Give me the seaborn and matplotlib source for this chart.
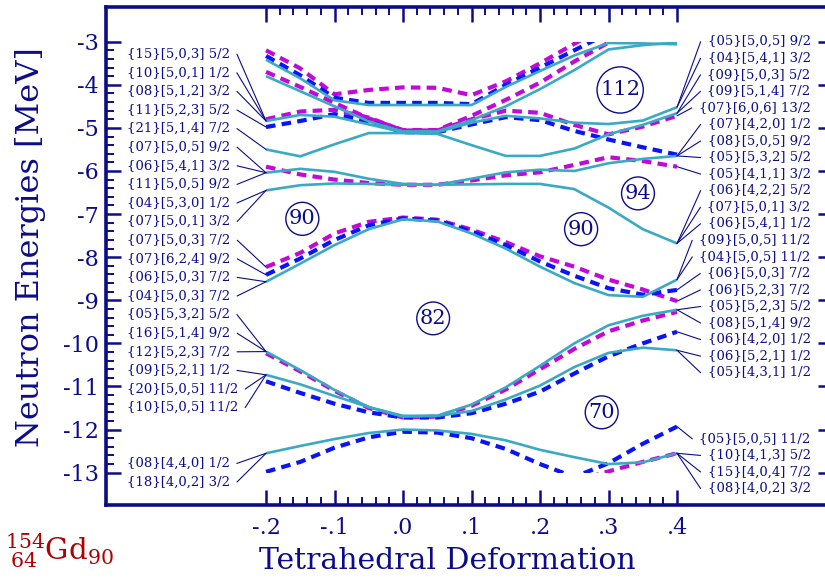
import numpy as np
import pandas as pd
import matplotlib
matplotlib.use("Agg")
import matplotlib.pyplot as plt
from matplotlib.transforms import Bbox, TransformedBbox
from matplotlib.ticker import FixedLocator
import seaborn as sns

nan = np.nan

# tetrahedral deformation grid
deformation = [-0.20, -0.15, -0.10, -0.05, 0.00, 0.05, 0.10, 0.15, 0.20, 0.25, 0.30, 0.35, 0.40]

# single-particle neutron levels [MeV], grouped by line family
magenta_levels = {
    "m_a1": [-3.20, -3.62, -4.22, -4.12, -4.06, -4.07, -4.24, -3.92, -3.50, -3.05, -2.60, nan, nan],
    "m_a2": [-3.70, -4.05, -4.42, -4.78, -5.05, -5.05, -4.72, -4.35, -3.95, -3.46, -3.02, -2.60, nan],
    "m_b": [-4.80, -4.62, -4.58, -4.76, -5.06, -5.06, -4.80, -4.60, -4.65, -4.93, -5.15, -4.97, -4.72],
    "m_c": [-5.90, -6.08, -6.20, -6.28, -6.32, -6.32, -6.22, -6.10, -6.03, -5.86, -5.68, -5.77, -5.90],
    "m_d": [-8.23, -7.90, -7.45, -7.18, -7.08, -7.13, -7.36, -7.65, -7.98, -8.22, -8.52, -8.75, -9.02],
    "m_e": [-10.23, -10.65, -11.10, -11.50, -11.72, -11.70, -11.45, -11.07, -10.60, -10.13, -9.72, -9.47, -9.27],
    "m_f": [nan, nan, nan, nan, nan, nan, nan, nan, nan, -13.20, -12.97, -12.75, -12.55],
}
blue_levels = {
    "b_a1": [-3.33, -3.78, -4.30, -4.42, -4.42, -4.42, -4.45, -4.00, -3.60, -3.20, -2.80, nan, nan],
    "b_b": [-4.98, -4.84, -4.68, -4.85, -5.10, -5.10, -4.92, -4.75, -4.82, -5.07, -5.27, -5.45, -5.62],
    "b_d": [-8.41, -8.03, -7.60, -7.26, -7.10, -7.15, -7.40, -7.72, -8.10, -8.43, -8.72, -8.87, -8.76],
    "b_e": [-10.88, -11.15, -11.40, -11.60, -11.72, -11.72, -11.62, -11.40, -11.12, -10.70, -10.30, -10.00, -9.73],
    "b_f": [-12.98, -12.75, -12.42, -12.18, -12.05, -12.07, -12.20, -12.45, -12.80, -13.10, -12.78, -12.33, -11.93],
}
cyan_levels = {
    "c_a": [-3.42, -3.85, -4.36, -4.47, -4.47, -4.47, -4.47, -4.05, -3.68, -3.32, -3.03, -3.04, -3.06],
    "c_b": [-3.80, -4.15, -4.50, -4.85, -5.08, -5.08, -4.82, -4.50, -4.10, -3.66, -3.18, -3.08, -3.02],
    "c_b2": [-4.84, -4.70, -4.74, -4.92, -5.10, -5.10, -4.88, -4.72, -4.78, -4.88, -4.91, -4.83, -4.52],
    "c_dip": [-5.50, -5.66, -5.38, -5.12, -5.12, -5.14, -5.40, -5.65, -5.65, -5.48, -5.15, -4.93, -4.66],
    "c_c1": [-6.04, -5.95, -6.02, -6.18, -6.30, -6.32, -6.18, -6.03, -5.97, -6.00, -5.82, -5.72, -5.65],
    "c_c2": [-6.45, -6.33, -6.29, -6.30, -6.32, -6.32, -6.31, -6.30, -6.30, -6.42, -6.85, -7.35, -7.68],
    "c_d": [-8.57, -8.15, -7.72, -7.35, -7.12, -7.17, -7.45, -7.80, -8.22, -8.60, -8.88, -8.92, -8.52],
    "c_e1": [-10.19, -10.62, -11.08, -11.48, -11.70, -11.68, -11.42, -11.02, -10.52, -10.00, -9.58, -9.36, -9.22],
    "c_e2": [-10.73, -10.95, -11.22, -11.48, -11.68, -11.68, -11.57, -11.30, -10.98, -10.55, -10.22, -10.10, -10.16],
    "c_f": [-12.55, -12.38, -12.22, -12.08, -12.00, -12.02, -12.10, -12.25, -12.47, -12.64, -12.80, -12.76, -12.55],
}

# level labels at the two ends and the level each one points to
left_labels = [
    "{15}[5,0,3] 5/2", "{10}[5,0,1] 1/2", "{08}[5,1,2] 3/2", "{11}[5,2,3] 5/2",
    "{21}[5,1,4] 7/2", "{07}[5,0,5] 9/2", "{06}[5,4,1] 3/2", "{11}[5,0,5] 9/2",
    "{04}[5,3,0] 1/2", "{07}[5,0,1] 3/2", "{07}[5,0,3] 7/2", "{07}[6,2,4] 9/2",
    "{06}[5,0,3] 7/2", "{04}[5,0,3] 7/2", "{05}[5,3,2] 5/2", "{16}[5,1,4] 9/2",
    "{12}[5,2,3] 7/2", "{09}[5,2,1] 1/2", "{20}[5,0,5] 11/2", "{10}[5,0,5] 11/2",
    "{08}[4,4,0] 1/2", "{18}[4,0,2] 3/2",
]
left_targets = [
    "c_b2", "c_b2", "c_b2", "b_b", "c_dip", "c_c1", "c_c1", "c_c1", "c_c2", "c_c2",
    "m_d", "b_d", "c_d", "c_d", "c_e1", "c_e1", "c_e1", "c_e2", "c_e2", "c_e2",
    "c_f", "c_f",
]
left_slots = list(range(20)) + [22, 23]

right_labels = [
    "{05}[5,0,5] 9/2", "{04}[5,4,1] 3/2", "{09}[5,0,3] 5/2", "{09}[5,1,4] 7/2",
    "{07}[6,0,6] 13/2", "{07}[4,2,0] 1/2", "{08}[5,0,5] 9/2", "{05}[5,3,2] 5/2",
    "{05}[4,1,1] 3/2", "{06}[4,2,2] 5/2", "{07}[5,0,1] 3/2", "{06}[5,4,1] 1/2",
    "{09}[5,0,5] 11/2", "{04}[5,0,5] 11/2", "{06}[5,0,3] 7/2", "{06}[5,2,3] 7/2",
    "{05}[5,2,3] 5/2", "{08}[5,1,4] 9/2", "{06}[4,2,0] 1/2", "{06}[5,2,1] 1/2",
    "{05}[4,3,1] 1/2", "{05}[5,0,5] 11/2", "{10}[4,1,3] 5/2", "{15}[4,0,4] 7/2",
    "{08}[4,0,2] 3/2",
]
right_targets = [
    "c_b2", "c_b2", "c_dip", "c_dip", "m_b", "c_c1", "c_c1", "c_c1", "m_c",
    "c_c2", "c_c2", "c_c2", "c_d", "c_d", "b_d", "m_d", "c_e1", "c_e1", "b_e",
    "c_e2", "c_e2", "b_f", "c_f", "c_f", "c_f",
]
right_slots = list(range(21)) + [24, 25, 26, 27]

# shell-gap particle numbers: (label, deformation, energy)
gap_labels = ["112", "94", "90", "90", "82", "70"]
gap_x = [0.317, 0.343, -0.147, 0.260, 0.044, 0.290]
gap_e = [-4.12, -6.52, -7.11, -7.35, -9.42, -11.60]

NAVY = "#0c0c8a"
CYAN = "#3aa9c4"
BLUE = "#0a14f5"
MAGENTA = "#c10ad8"


def to_long(levels, family):
    rows = []
    for name, vals in levels.items():
        for x, e in zip(deformation, vals):
            if not np.isnan(e):
                rows.append({"curve": name, "family": family, "x": x, "E": e})
    return pd.DataFrame(rows)


df = pd.concat([to_long(magenta_levels, "magenta"),
                to_long(blue_levels, "blue"),
                to_long(cyan_levels, "cyan")], ignore_index=True)
all_levels = {**magenta_levels, **blue_levels, **cyan_levels}

sns.set_style("white")
plt.rcParams["font.family"] = ["DejaVu Serif"]
plt.rcParams["mathtext.fontset"] = "dejavuserif"

fig = plt.figure(figsize=(8.25, 5.8), dpi=100)
ax = fig.add_axes([106 / 825, 1 - 505 / 580, (833 - 106) / 825, (505 - 7) / 580])
ax.set_xlim(-0.4336, 0.6277)
ax.set_ylim(-13.75, -2.195)

clip = TransformedBbox(Bbox.from_extents(-1.0, -13.0, 1.0, -3.0), ax.transData)

styles = [("magenta", MAGENTA, 3.0, (2.3, 1.5), 2.0),
          ("blue", BLUE, 3.0, (2.3, 1.5), 2.1),
          ("cyan", CYAN, 1.9, None, 2.2)]
for fam, col, lw, dash, z in styles:
    n0 = len(ax.lines)
    sns.lineplot(data=df[df["family"] == fam], x="x", y="E", units="curve",
                 estimator=None, color=col, lw=lw, legend=False, ax=ax)
    for ln in ax.lines[n0:]:
        if dash is not None:
            ln.set_dashes(dash)
            ln.set_dash_capstyle("butt")
        ln.set_solid_capstyle("butt")
        ln.set_zorder(z)
        ln.set_clip_box(clip)

# axes styling
for sp in ax.spines.values():
    sp.set_color(NAVY)
    sp.set_linewidth(2.6)
ax.set_xticks([-0.2, -0.1, 0.0, 0.1, 0.2, 0.3, 0.4])
ax.set_xticklabels(["-.2", "-.1", ".0", ".1", ".2", ".3", ".4"])
ax.xaxis.set_minor_locator(FixedLocator(np.round(np.arange(-0.2, 0.4001, 0.02), 3)))
ax.set_yticks(np.arange(-13, -2.5, 1.0))
ax.set_yticklabels([str(v) for v in range(-13, -2)])
ax.yaxis.set_minor_locator(FixedLocator(np.round(np.arange(-13, -2.99, 0.2), 2)))
ax.tick_params(axis="both", which="major", direction="in", length=11, width=1.8,
               color=NAVY, labelcolor=NAVY, labelsize=16)
ax.tick_params(axis="both", which="minor", direction="in", length=6, width=1.4, color=NAVY)
ax.tick_params(axis="x", which="both", top=True, bottom=True, pad=9)
ax.tick_params(axis="y", which="both", left=True, right=True, pad=5)
ax.set_xlabel("Tetrahedral Deformation", fontsize=21.5, color=NAVY, va="center")
ax.set_ylabel("Neutron Energies [MeV]", fontsize=23, color=NAVY)
ax.xaxis.set_label_coords((447 - 106) / 727, -(561 - 505) / 498)
ax.yaxis.set_label_coords(-(106 - 46) / 727, (505 - 247) / 498)

# gap numbers in circles
for txt, gx, ge in zip(gap_labels, gap_x, gap_e):
    ax.text(gx, ge, txt, ha="center", va="center", fontsize=15, color=NAVY, zorder=5,
            bbox=dict(boxstyle="circle,pad=0.15", fc="none", ec=NAVY, lw=1.0))

# level labels
lab_size = 9.5
left_x = -0.403
right_x = 0.595
left_texts, right_texts = [], []
for txt, slot in zip(left_labels, left_slots):
    e = -3.29 - 0.4316 * slot
    left_texts.append(ax.text(left_x, e, txt, ha="left", va="center",
                              fontsize=lab_size, color=NAVY))
for txt, slot in zip(right_labels, right_slots):
    e = -3.0 - 0.384 * slot
    right_texts.append(ax.text(right_x, e, txt, ha="right", va="center",
                               fontsize=lab_size, color=NAVY))

fig.canvas.draw()
rend = fig.canvas.get_renderer()
inv = ax.transData.inverted()
for t, tgt in zip(left_texts, left_targets):
    bb = t.get_window_extent(rend)
    x0 = inv.transform((bb.x1 + 7, bb.y0))[0]
    ax.plot([x0, deformation[0]], [t.get_position()[1], all_levels[tgt][0]],
            color=NAVY, lw=0.8, zorder=3)
for t, tgt in zip(right_texts, right_targets):
    bb = t.get_window_extent(rend)
    x0 = inv.transform((bb.x0 - 7, bb.y0))[0]
    ax.plot([x0, deformation[-1]], [t.get_position()[1], all_levels[tgt][-1]],
            color=NAVY, lw=0.8, zorder=3)

fig.text(5 / 825, 1 - 560 / 580, r"$^{154}_{\;64}\mathrm{Gd}_{90}$", fontsize=21,
         color="#b00000", ha="left", va="baseline")

fig.savefig("out.png", dpi=100)
